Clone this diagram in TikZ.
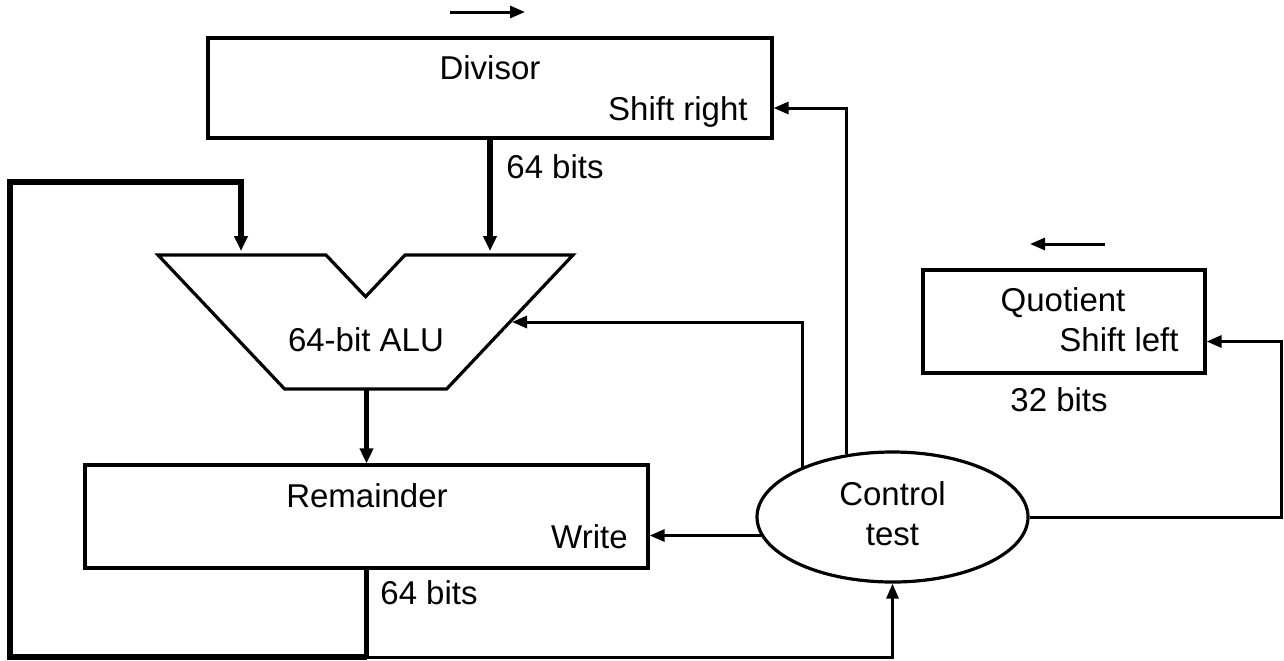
\documentclass[tikz,border=0pt]{standalone}
\usepackage{fontspec}
\setmainfont{Liberation Sans}
\usetikzlibrary{arrows.meta,shapes.geometric,calc}
\tikzset{
  reg/.style={draw, line width=1.6pt, inner sep=0pt},
  lbl/.style={font=\fontsize{16.5}{19}\selectfont, inner sep=0pt},
  bus/.style={line width=2.8pt, -{Triangle[length=7.5pt,width=6.5pt]}},
  busline/.style={line width=2.8pt},
  ctl/.style={line width=1.5pt, -{Triangle[length=7.5pt,width=6pt]}},
}
\begin{document}
\begin{tikzpicture}[x=0.5pt,y=-0.5pt]
\useasboundingbox (0,0) rectangle (1284,660);

% registers
\node[reg, minimum width=282pt, minimum height=50pt] (div) at (490,88) {};
\node[lbl, anchor=base] (divt) at (490,79) {Divisor};
\node[lbl, anchor=base east] (divs) at (748,120) {Shift right};

\node[reg, minimum width=281.5pt, minimum height=51.5pt] (rem) at (366.5,516.5) {};
\node[lbl, anchor=base] (remt) at (367,507.5) {Remainder};
\node[lbl, anchor=base east] (remw) at (628,548.5) {Write};

\node[reg, minimum width=141pt, minimum height=51.5pt] (quo) at (1064,321.5) {};
\node[lbl, anchor=base] (quot) at (1063,311.5) {Quotient};
\node[lbl, anchor=base east] (quos) at (1179,351.5) {Shift left};

% control
\node[reg, ellipse, minimum width=135.5pt, minimum height=65pt] (ctrl) at (892.5,517) {};
\node[lbl, anchor=base] (ctrlt) at (892.5,505) {Control};
\node[lbl, anchor=base] (ctrlu) at (892.5,545) {test};

% ALU
\coordinate (a1) at (158,255);
\coordinate (a2) at (326,255);
\coordinate (a3) at (365.6,296.7);
\coordinate (a4) at (405,255);
\coordinate (a5) at (573,255);
\coordinate (a6) at (446.6,389);
\coordinate (a7) at (284.6,389);
\draw[line width=1.6pt, line join=miter] (a1) -- (a2) -- (a3) -- (a4) -- (a5) -- (a6) -- (a7) -- cycle;
\node[lbl, anchor=base] (alut) at (366,351) {64-bit ALU};
\coordinate (aluL) at (241,251);
\coordinate (aluR) at (490,251);
\coordinate (aluO) at (366.5,389);
\coordinate (aluC) at (512,322);

% labels
\node[lbl, anchor=base west] (b1) at (506,178) {64 bits};
\node[lbl, anchor=base west] (b2) at (380,604) {64 bits};
\node[lbl, anchor=base west] (b3) at (1010,411.5) {32 bits};

% direction arrows
\coordinate (r1) at (450,12);
\coordinate (r2) at (525,12);
\draw[ctl] (r1) -- (r2);
\coordinate (l1) at (1105,244);
\coordinate (l2) at (1030,244);
\draw[ctl] (l1) -- (l2);

% data paths
\draw[bus] (div.south) -- (aluR);
\draw[bus] (aluO) -- (rem.north);
\coordinate (bj) at (366.5,657);
\coordinate (lc) at (10,182);
\draw[busline] (rem.south) -- (bj);
\draw[bus, line join=miter] (bj) -| (lc) -| (aluL);

% control paths
\draw[ctl] (bj) -| (ctrl.south);
\draw[ctl] (ctrl.188.8) -- (rem.east |- ctrl.188.8);
\draw[ctl] (ctrl.151.6) |- (aluC);
\coordinate (divin) at ($(div.east)+(0,20)$);
\draw[ctl] (ctrl.126.2) |- (divin);
\coordinate (qin) at ($(quo.east)+(0,20)$);
\coordinate (qc) at (1281,0);
\draw[ctl] (ctrl.east) -| (qc |- qin) -- (qin);
\end{tikzpicture}
\end{document}
